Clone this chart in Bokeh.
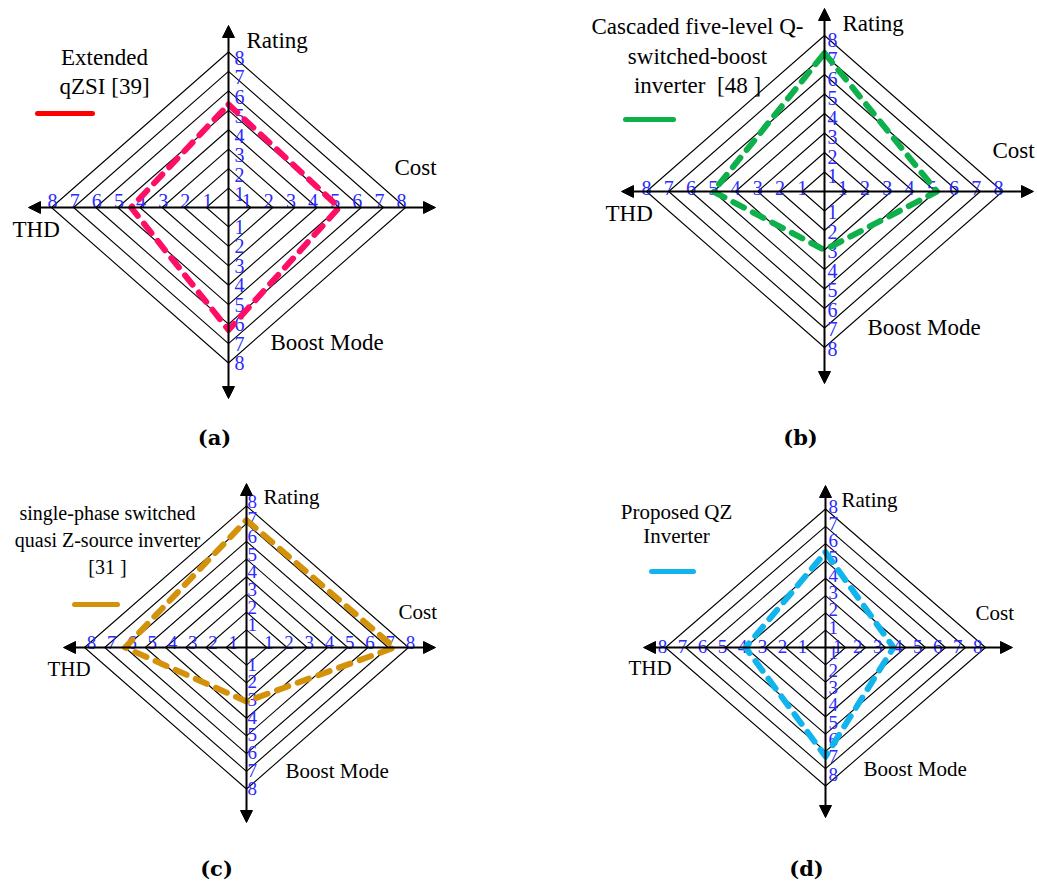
from bokeh.plotting import figure
from bokeh.layouts import column, row
from bokeh.models import Range1d, Arrow, NormalHead
from bokeh.core.properties import value
from bokeh.embed import file_html
from bokeh.resources import INLINE

# ---------------- data ----------------
axis_names = ["Rating", "Cost", "Boost Mode", "THD"]
levels = [1, 2, 3, 4, 5, 6, 7, 8]

# values in order Rating, Cost, Boost Mode, THD
values_a = [5.3, 5.0, 6.3, 4.4]
values_b = [7.1, 5.05, 3.0, 5.0]
values_c = [7.2, 7.3, 3.05, 6.0]
values_d = [5.5, 3.4, 6.3, 4.0]

legend_a = ["Extended", "qZSI [39]"]
legend_b = ["Cascaded five-level Q-", "switched-boost", "inverter\u00a0 [48 ]"]
legend_c = ["single-phase switched", "quasi Z-source inverter", "[31 ]"]
legend_d = ["Proposed QZ", "Inverter"]

panel_tags = ["(a)", "(b)", "(c)", "(d)"]

colors = ["#ff0d66", "#0db04b", "#d4920a", "#12b4ee"]
legend_colors = ["#ff0000", "#0db04b", "#d4920a", "#12b4ee"]

SERIF = value("Liberation Serif")
TICK_BLUE = "#2b2bff"


def make_panel(W, H, cx, cy, sx, sy, vals, col, lcol, legend, tag, cfg):
    p = figure(width=W, height=H, output_backend="svg", toolbar_location=None,
               x_axis_type=None, y_axis_type=None,
               x_range=Range1d(-cx / sx, (W - cx) / sx),
               y_range=Range1d(-(H - cy) / sy, cy / sy),
               min_border=0, outline_line_color=None)
    p.min_border_left = p.min_border_right = p.min_border_top = p.min_border_bottom = 0

    def ux(dx):
        return dx / sx

    def uy(dy):
        return -dy / sy

    # rings
    xs = [[k, 0, -k, 0, k] for k in levels]
    ys = [[0, k, 0, -k, 0] for k in levels]
    p.multi_line(xs, ys, line_color="black", line_width=1.1)

    # axes with arrows
    L, R, U, D = cfg["arrows"]
    head = dict(size=12, fill_color="black", line_color="black", line_width=1)
    p.add_layout(Arrow(start=NormalHead(**head), end=NormalHead(**head),
                       x_start=ux(-L), y_start=0, x_end=ux(R), y_end=0,
                       line_width=2, line_color="black"))
    p.add_layout(Arrow(start=NormalHead(**head), end=NormalHead(**head),
                       x_start=0, y_start=uy(D), x_end=0, y_end=uy(-U),
                       line_width=2, line_color="black"))

    fs = cfg["tick_fs"]
    # top tick labels
    p.text(x=[ux(cfg["v_dx"])] * 8, y=[k + uy(cfg["top_dy"]) for k in levels],
           text=[str(k) for k in levels], text_font=SERIF, text_font_size=fs,
           text_color=TICK_BLUE, text_align="left", text_baseline="middle")
    # bottom tick labels
    p.text(x=[ux(cfg["v_dx"])] * 8, y=[-k + uy(cfg["bot_dy"]) for k in levels],
           text=[str(k) for k in levels], text_font=SERIF, text_font_size=fs,
           text_color=TICK_BLUE, text_align="left", text_baseline="middle")
    # right tick labels
    p.text(x=[k + ux(cfg["r_dx"]) for k in levels], y=[uy(cfg["h_dy"])] * 8,
           text=[str(k) for k in levels], text_font=SERIF, text_font_size=fs,
           text_color=TICK_BLUE, text_align=cfg["r_align"], text_baseline="bottom")
    # left tick labels
    p.text(x=[-k + ux(cfg["l_dx"]) for k in levels], y=[uy(cfg["h_dy"])] * 8,
           text=[str(k) for k in levels], text_font=SERIF, text_font_size=fs,
           text_color=TICK_BLUE, text_align="center", text_baseline="bottom")

    # axis names
    pos = cfg["names"]
    p.text(x=[ux(pp[0]) for pp in pos], y=[uy(pp[1]) for pp in pos],
           text=axis_names, text_font=SERIF, text_font_size=cfg["name_fs"],
           text_color="black", text_align="left", text_baseline="middle")

    # data polygon
    r, c, b, t = vals
    p.line([0, c, 0, -t, 0], [r, 0, -b, 0, r], line_color=col, line_width=6,
           line_dash="12 10", line_cap="round", line_join="round")

    # legend
    lx, ly0, lstep, lfs = cfg["legend_text"]
    p.text(x=[ux(lx)] * len(legend), y=[uy(ly0 + i * lstep) for i in range(len(legend))],
           text=legend, text_font=SERIF, text_font_size=lfs,
           text_color="black", text_align="center", text_baseline="middle")
    x0, x1, yl = cfg["legend_line"]
    p.line([ux(x0), ux(x1)], [uy(yl), uy(yl)], line_color=lcol, line_width=5,
           line_cap="round")

    # panel tag
    tx, ty = cfg["tag"]
    p.text(x=[ux(tx)], y=[uy(ty)], text=[tag], text_font=value("DejaVu Serif"),
           text_font_style="bold", text_font_size="21px", text_color="black",
           text_align="center", text_baseline="middle")
    return p


TOP_H, BOT_H = 460, 423
LEFT_W, RIGHT_W = 520, 517

cfg_a = dict(arrows=(200, 207, 182, 191), tick_fs="20px", v_dx=6, top_dy=6, bot_dy=0,
             r_dx=1, r_align="right", l_dx=1, h_dy=0,
             names=[(18, -167), (166, -40), (42, 135), (-216, 22)], name_fs="23px",
             legend_text=(-124, -150, 29, "23px"), legend_line=(-191, -136, -94),
             tag=(-14, 230))
cfg_b = dict(arrows=(203, 209, 183, 192), tick_fs="20px", v_dx=3, top_dy=4, bot_dy=1,
             r_dx=1, r_align="right", l_dx=0, h_dy=3,
             names=[(18, -168), (168, -41), (43, 136), (-219, 22)], name_fs="23px",
             legend_text=(-127, -165, 29.5, "23px"), legend_line=(-199, -151, -72),
             tag=(-24, 246))
cfg_c = dict(arrows=(183, 189, 164, 175), tick_fs="19px", v_dx=1, top_dy=-5, bot_dy=-1,
             r_dx=2, r_align="center", l_dx=7, h_dy=1,
             names=[(17, -151), (152, -36), (39, 123), (-199, 21)], name_fs="21px",
             legend_text=(-139, -135, 27, "20px"), legend_line=(-172, -129, -43),
             tag=(-30, 221))
cfg_d = dict(arrows=(182, 187, 162, 170), tick_fs="19px", v_dx=3, top_dy=-3, bot_dy=-12,
             r_dx=-3, r_align="right", l_dx=-3, h_dy=5,
             names=[(16, -148), (150, -35), (38, 121), (-197, 20)], name_fs="21px",
             legend_text=(-149, -136, 24, "21px"), legend_line=(-174, -132, -76),
             tag=(-19, 221))

pa = make_panel(LEFT_W, TOP_H, 228, 207, 177 / 8, 155.5 / 8, values_a, colors[0],
                legend_colors[0], legend_a, panel_tags[0], cfg_a)
pb = make_panel(RIGHT_W, TOP_H, 304, 191, 178 / 8, 156 / 8, values_b, colors[1],
                legend_colors[1], legend_b, panel_tags[1], cfg_b)
pc = make_panel(LEFT_W, BOT_H, 246, 187, 162 / 8, 141.5 / 8, values_c, colors[2],
                legend_colors[2], legend_c, panel_tags[2], cfg_c)
pd = make_panel(RIGHT_W, BOT_H, 305, 187, 160 / 8, 138.5 / 8, values_d, colors[3],
                legend_colors[3], legend_d, panel_tags[3], cfg_d)

layout = column(row(pa, pb), row(pc, pd))
open("out.html", "w").write(file_html(layout, INLINE))
